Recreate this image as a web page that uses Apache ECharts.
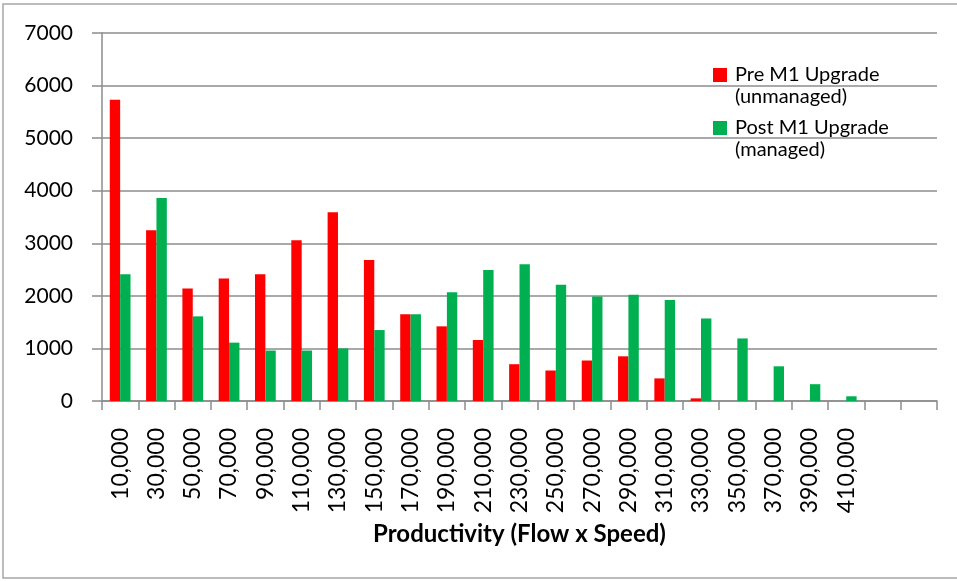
<!DOCTYPE html>
<html>
<head>
<meta charset="utf-8">
<script src="https://cdn.jsdelivr.net/npm/echarts@6/dist/echarts.min.js"></script>
<style>
  html, body { margin: 0; padding: 0; background: #ffffff; }
  #chart { width: 957px; height: 581px; }
</style>
</head>
<body>
<div id="chart"></div>
<script>
// Productivity bins (Flow x Speed); the last two bins carry no label
const categories = [
  '10,000', '30,000', '50,000', '70,000', '90,000', '110,000', '130,000',
  '150,000', '170,000', '190,000', '210,000', '230,000', '250,000', '270,000',
  '290,000', '310,000', '330,000', '350,000', '370,000', '390,000', '410,000',
  '', ''
];

const preName = 'Pre M1 Upgrade (unmanaged)';
const postName = 'Post M1 Upgrade (managed)';

const preValues = [
  5730, 3250, 2140, 2330, 2410, 3060, 3590, 2680, 1650, 1420, 1160, 700,
  580, 770, 850, 430, 50, 0, 0, 0, 0, 0, 0
];

const postValues = [
  2410, 3860, 1610, 1110, 960, 960, 1000, 1350, 1650, 2070, 2490, 2600,
  2210, 1990, 2020, 1920, 1570, 1190, 660, 320, 90, 0, 0
];

const yTicks = { min: 0, max: 7000, interval: 1000 };

const FONT = 'Lato';
const GRID_COLOR = '#8c8c8c';

const chart = echarts.init(document.getElementById('chart'), null, { renderer: 'canvas' });

// Legend text: series name on two lines; a blank leading line keeps the
// first line level with the swatch (the block is centred on the swatch)
function legendBlock(top, name) {
  return {
    show: true,
    data: [name],
    orient: 'vertical',
    left: 713,
    top: top,
    padding: 0,
    itemWidth: 14,
    itemHeight: 14,
    icon: 'rect',
    selectedMode: false,
    formatter: n => ' \n' + n.replace(' (', '\n('),
    textStyle: {
      fontFamily: FONT,
      fontSize: 20,
      color: '#000000',
      lineHeight: 22,
      padding: [0, 0, 0, 3]
    }
  };
}

chart.setOption({
  animation: false,
  backgroundColor: '#ffffff',
  textStyle: { fontFamily: FONT },
  graphic: [{
    type: 'rect',
    silent: true,
    shape: { x: 3, y: 4, width: 1000, height: 574 },
    style: { fill: 'none', stroke: '#a6a6a6', lineWidth: 1.5 }
  }],
  grid: { left: 102, right: 20, top: 33, bottom: 180, containLabel: false },
  legend: [legendBlock(42, preName), legendBlock(95, postName)],
  xAxis: {
    type: 'category',
    data: categories,
    name: 'Productivity (Flow x Speed)',
    nameLocation: 'middle',
    nameGap: 121,
    nameTextStyle: { fontFamily: FONT, fontSize: 24, fontWeight: 'bold', color: '#000000' },
    axisLine: { show: true, lineStyle: { color: GRID_COLOR, width: 1.5 } },
    axisTick: { show: true, length: 9, alignWithLabel: false, lineStyle: { color: GRID_COLOR, width: 1.5 } },
    axisLabel: {
      rotate: 90,
      interval: 0,
      margin: 27,
      fontFamily: FONT,
      fontSize: 23,
      color: '#000000'
    },
    splitLine: { show: false }
  },
  yAxis: {
    type: 'value',
    min: yTicks.min,
    max: yTicks.max,
    interval: yTicks.interval,
    axisLine: { show: true, lineStyle: { color: GRID_COLOR, width: 1.5 } },
    axisTick: { show: true, length: 10, inside: false, lineStyle: { color: GRID_COLOR, width: 1.5 } },
    axisLabel: {
      margin: 29,
      fontFamily: FONT,
      fontSize: 21,
      color: '#000000',
      formatter: v => String(v)
    },
    splitLine: { show: true, lineStyle: { color: GRID_COLOR, width: 1.5 } }
  },
  series: [
    {
      name: preName,
      type: 'bar',
      data: preValues,
      barGap: '0%',
      barCategoryGap: '42.86%',
      itemStyle: { color: '#ff0000' }
    },
    {
      name: postName,
      type: 'bar',
      data: postValues,
      barGap: '0%',
      barCategoryGap: '42.86%',
      itemStyle: { color: '#00b050' }
    }
  ]
});
</script>
</body>
</html>
